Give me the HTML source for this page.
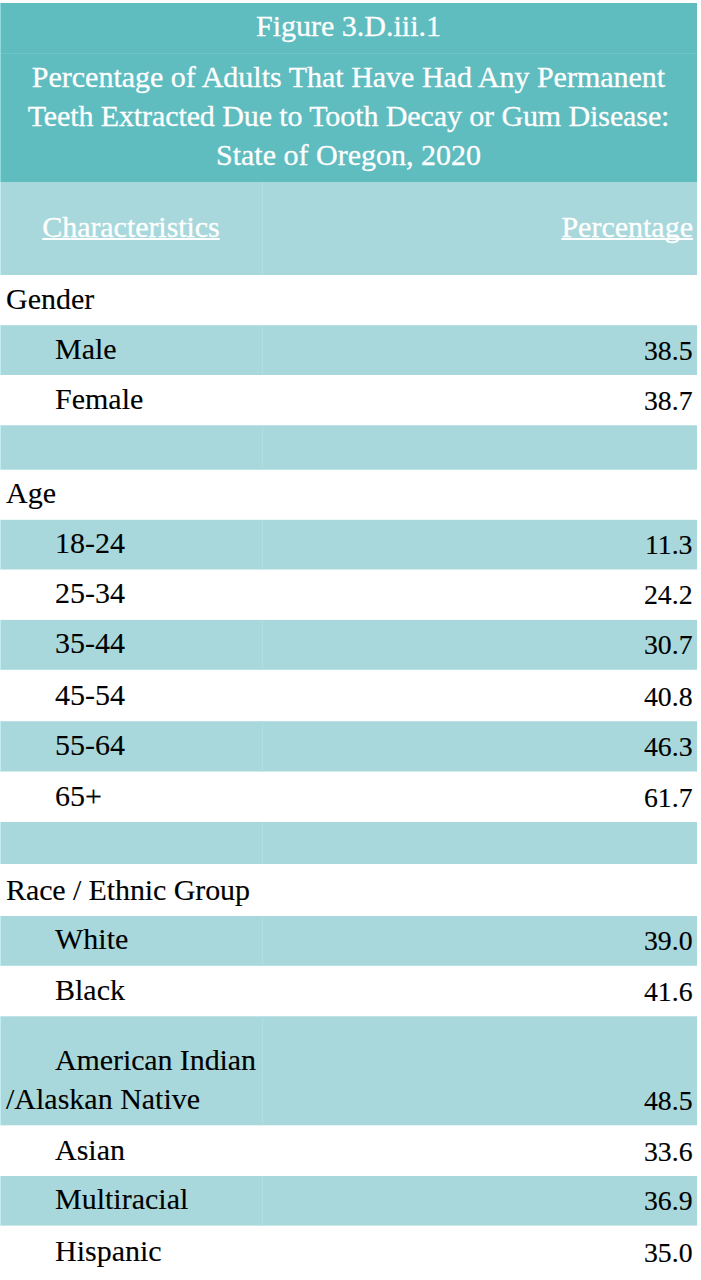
<!DOCTYPE html>
<html><head><meta charset="utf-8"><title>Figure 3.D.iii.1</title>
<style>
html,body{margin:0;padding:0;background:#fff;}
body{width:701px;height:1280px;overflow:hidden;position:relative;font-family:"Liberation Serif","Times New Roman",serif;font-size:30px;line-height:39px;color:#000;}
.r{position:absolute;}
.t{position:absolute;white-space:nowrap;-webkit-text-stroke:0.12px currentColor;}
.w{color:#fff;-webkit-text-stroke:0.3px #fff;}
.c{left:0;width:697px;text-align:center;}
.lt{left:6px;}
.in{left:55px;}
.num{right:9px;text-align:right;}
.n{right:8.5px;font-size:27.75px;-webkit-text-stroke:0.15px #000;}
.ch{left:0;width:262px;text-align:center;}
u{text-decoration:underline;text-decoration-thickness:2px;text-underline-offset:1px;text-decoration-skip-ink:none;}
</style></head><body>

<div class="r" style="left:0px;width:697px;top:3px;height:179px;background:#5fbcbf"></div>
<div class="r" style="left:0;width:697px;top:53px;height:1px;background:#6cc6c9"></div>
<div class="r" style="left:0;width:1px;top:3px;height:179px;background:#8fdadb"></div>
<div class="t w c" style="top:5.5px">Figure 3.D.iii.1</div>
<div class="t w c" style="top:56.5px">Percentage of Adults That Have Had Any Permanent</div>
<div class="t w c" style="top:95.5px;letter-spacing:-0.1px">Teeth Extracted Due to Tooth Decay or Gum Disease:</div>
<div class="t w c" style="top:134.5px">State of Oregon, 2020</div>
<div class="r" style="left:0px;width:697px;top:182px;height:93px;background:#a8d8db"></div>
<div class="r" style="left:262px;width:1px;top:182px;height:93px;background:#b0dfe2"></div>
<div class="r" style="left:0;width:1px;top:182px;height:93px;background:#c2ecef"></div>
<div class="t w ch" style="top:207.1px"><u style="letter-spacing:-0.05px">Characteristics</u></div>
<div class="t w num" style="top:207.1px;right:8px"><u>Percentage</u></div>
<div class="t lt" style="top:278.7px">Gender</div>
<div class="r" style="left:0px;width:697px;top:325px;height:1px;background:#b9e0e2"></div>
<div class="r" style="left:0px;width:697px;top:326px;height:49px;background:#a8d8db"></div>
<div class="r" style="left:262px;width:1px;top:325px;height:50px;background:#b0dfe2"></div>
<div class="r" style="left:0;width:1px;top:325px;height:50px;background:#c2ecef"></div>
<div class="t in" style="top:328.5px">Male</div>
<div class="t num n" style="top:330.5px">38.5</div>
<div class="t in" style="top:378.8px">Female</div>
<div class="t num n" style="top:380.8px">38.7</div>
<div class="r" style="left:0px;width:697px;top:425px;height:1px;background:#c2e4e6"></div>
<div class="r" style="left:0px;width:697px;top:426px;height:43px;background:#a8d8db"></div>
<div class="r" style="left:0px;width:697px;top:469px;height:1px;background:#c2e4e6"></div>
<div class="r" style="left:262px;width:1px;top:425px;height:45px;background:#b0dfe2"></div>
<div class="r" style="left:0;width:1px;top:425px;height:45px;background:#c2ecef"></div>
<div class="t lt" style="top:473.3px">Age</div>
<div class="r" style="left:0px;width:697px;top:519px;height:1px;background:#eef7f8"></div>
<div class="r" style="left:0px;width:697px;top:520px;height:49px;background:#a8d8db"></div>
<div class="r" style="left:0px;width:697px;top:569px;height:1px;background:#d4eced"></div>
<div class="r" style="left:262px;width:1px;top:520px;height:50px;background:#b0dfe2"></div>
<div class="r" style="left:0;width:1px;top:520px;height:50px;background:#c2ecef"></div>
<div class="t in" style="top:523px">18-24</div>
<div class="t num n" style="top:525px">11.3</div>
<div class="t in" style="top:573.4px">25-34</div>
<div class="t num n" style="top:575.4px">24.2</div>
<div class="r" style="left:0px;width:697px;top:619px;height:1px;background:#f6fbfb"></div>
<div class="r" style="left:0px;width:697px;top:620px;height:49px;background:#a8d8db"></div>
<div class="r" style="left:0px;width:697px;top:669px;height:1px;background:#b9e0e2"></div>
<div class="r" style="left:262px;width:1px;top:620px;height:50px;background:#b0dfe2"></div>
<div class="r" style="left:0;width:1px;top:620px;height:50px;background:#c2ecef"></div>
<div class="t in" style="top:623.3px">35-44</div>
<div class="t num n" style="top:625.3px">30.7</div>
<div class="t in" style="top:674.7px">45-54</div>
<div class="t num n" style="top:676.7px">40.8</div>
<div class="r" style="left:0px;width:697px;top:721px;height:1px;background:#b9e0e2"></div>
<div class="r" style="left:0px;width:697px;top:722px;height:49px;background:#a8d8db"></div>
<div class="r" style="left:0px;width:697px;top:771px;height:1px;background:#d4eced"></div>
<div class="r" style="left:262px;width:1px;top:721px;height:51px;background:#b0dfe2"></div>
<div class="r" style="left:0;width:1px;top:721px;height:51px;background:#c2ecef"></div>
<div class="t in" style="top:725px">55-64</div>
<div class="t num n" style="top:727px">46.3</div>
<div class="t in" style="top:775.5px">65+</div>
<div class="t num n" style="top:777.5px">61.7</div>
<div class="r" style="left:0px;width:697px;top:822px;height:42px;background:#a8d8db"></div>
<div class="r" style="left:262px;width:1px;top:822px;height:42px;background:#b0dfe2"></div>
<div class="r" style="left:0;width:1px;top:822px;height:42px;background:#c2ecef"></div>
<div class="t lt" style="top:869.5px;letter-spacing:-0.1px">Race / Ethnic Group</div>
<div class="r" style="left:0px;width:697px;top:916px;height:49px;background:#a8d8db"></div>
<div class="r" style="left:0px;width:697px;top:965px;height:1px;background:#b9e0e2"></div>
<div class="r" style="left:262px;width:1px;top:916px;height:50px;background:#b0dfe2"></div>
<div class="r" style="left:0;width:1px;top:916px;height:50px;background:#c2ecef"></div>
<div class="t in" style="top:919.3px">White</div>
<div class="t num n" style="top:921.3px">39.0</div>
<div class="t in" style="top:969.8px">Black</div>
<div class="t num n" style="top:971.8px">41.6</div>
<div class="r" style="left:0px;width:697px;top:1016px;height:1px;background:#c2e4e6"></div>
<div class="r" style="left:0px;width:697px;top:1017px;height:108px;background:#a8d8db"></div>
<div class="r" style="left:0px;width:697px;top:1125px;height:1px;background:#e5f3f4"></div>
<div class="r" style="left:262px;width:1px;top:1016px;height:109px;background:#b0dfe2"></div>
<div class="r" style="left:0;width:1px;top:1016px;height:109px;background:#c2ecef"></div>
<div class="t in" style="top:1039.8px;letter-spacing:-0.1px">American Indian</div>
<div class="t lt" style="top:1078.8px">/Alaskan Native</div>
<div class="t num n" style="top:1080.8px">48.5</div>
<div class="t in" style="top:1129.5px">Asian</div>
<div class="t num n" style="top:1131.5px">33.6</div>
<div class="r" style="left:0px;width:697px;top:1176px;height:49px;background:#a8d8db"></div>
<div class="r" style="left:0px;width:697px;top:1225px;height:1px;background:#cbe8e9"></div>
<div class="r" style="left:262px;width:1px;top:1176px;height:50px;background:#b0dfe2"></div>
<div class="r" style="left:0;width:1px;top:1176px;height:50px;background:#c2ecef"></div>
<div class="t in" style="top:1179.1px">Multiracial</div>
<div class="t num n" style="top:1181.1px">36.9</div>
<div class="t in" style="top:1230.5px">Hispanic</div>
<div class="t num n" style="top:1232.5px">35.0</div>
</body></html>
